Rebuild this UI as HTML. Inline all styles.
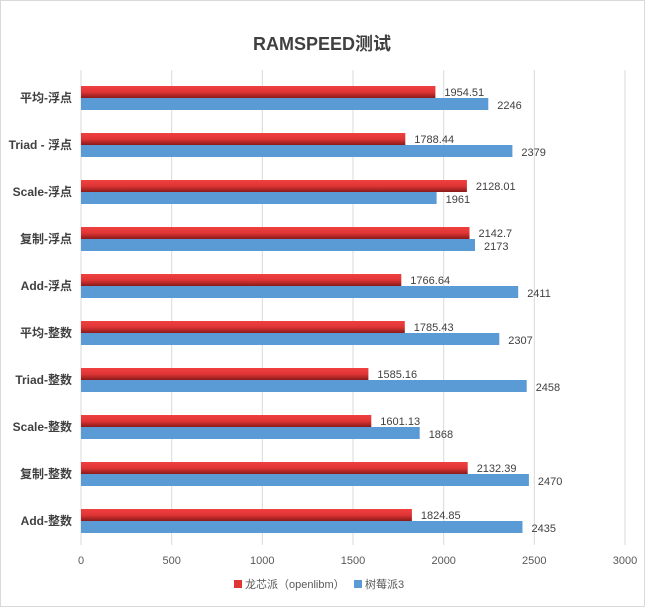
<!DOCTYPE html>
<html><head><meta charset="utf-8"><style>
body{margin:0;background:#fff}
svg text{font-family:"Liberation Sans","Noto Sans CJK SC",sans-serif}
</style></head><body>
<svg width="645" height="607" xmlns="http://www.w3.org/2000/svg">
<defs>
<linearGradient id="r" x1="0" y1="0" x2="0" y2="1">
<stop offset="0" stop-color="#f04040"/><stop offset="0.5" stop-color="#e03535"/><stop offset="1" stop-color="#8a1a1a"/>
</linearGradient>
</defs>
<rect x="0.5" y="0.5" width="644" height="606" fill="#fff" stroke="#d9d9d9"/>
<text x="322" y="50" font-size="18" font-weight="bold" fill="#404040" text-anchor="middle">RAMSPEED测试</text>
<g stroke="#d9d9d9" stroke-width="1">
<line x1="81" y1="70" x2="81" y2="545"/><line x1="171.7" y1="70" x2="171.7" y2="545"/><line x1="262.3" y1="70" x2="262.3" y2="545"/><line x1="353" y1="70" x2="353" y2="545"/><line x1="443.7" y1="70" x2="443.7" y2="545"/><line x1="534.3" y1="70" x2="534.3" y2="545"/><line x1="625" y1="70" x2="625" y2="545"/>
</g>
<g font-size="11" fill="#595959" text-anchor="middle">
<text x="81" y="564">0</text><text x="171.7" y="564">500</text><text x="262.3" y="564">1000</text><text x="353" y="564">1500</text><text x="443.7" y="564">2000</text><text x="534.3" y="564">2500</text><text x="625" y="564">3000</text>
</g>
<g>
<rect x="81" y="86" width="354.4" height="12" fill="url(#r)"/><rect x="81" y="98" width="407.3" height="12" fill="#5b9bd5"/>
<rect x="81" y="133" width="324.3" height="12" fill="url(#r)"/><rect x="81" y="145" width="431.4" height="12" fill="#5b9bd5"/>
<rect x="81" y="180" width="385.9" height="12" fill="url(#r)"/><rect x="81" y="192" width="355.6" height="12" fill="#5b9bd5"/>
<rect x="81" y="227" width="388.5" height="12" fill="url(#r)"/><rect x="81" y="239" width="394.0" height="12" fill="#5b9bd5"/>
<rect x="81" y="274" width="320.3" height="12" fill="url(#r)"/><rect x="81" y="286" width="437.2" height="12" fill="#5b9bd5"/>
<rect x="81" y="321" width="323.8" height="12" fill="url(#r)"/><rect x="81" y="333" width="418.3" height="12" fill="#5b9bd5"/>
<rect x="81" y="368" width="287.4" height="12" fill="url(#r)"/><rect x="81" y="380" width="445.7" height="12" fill="#5b9bd5"/>
<rect x="81" y="415" width="290.3" height="12" fill="url(#r)"/><rect x="81" y="427" width="338.7" height="12" fill="#5b9bd5"/>
<rect x="81" y="462" width="386.7" height="12" fill="url(#r)"/><rect x="81" y="474" width="447.9" height="12" fill="#5b9bd5"/>
<rect x="81" y="509" width="330.9" height="12" fill="url(#r)"/><rect x="81" y="521" width="441.5" height="12" fill="#5b9bd5"/>
</g>
<g font-size="11" fill="#404040">
<text x="444.4" y="96">1954.51</text><text x="497.3" y="109">2246</text>
<text x="414.3" y="143">1788.44</text><text x="521.4" y="156">2379</text>
<text x="475.9" y="190">2128.01</text><text x="445.6" y="203">1961</text>
<text x="478.5" y="237">2142.7</text><text x="484" y="250">2173</text>
<text x="410.3" y="284">1766.64</text><text x="527.2" y="297">2411</text>
<text x="413.8" y="331">1785.43</text><text x="508.3" y="344">2307</text>
<text x="377.4" y="378">1585.16</text><text x="535.7" y="391">2458</text>
<text x="380.3" y="425">1601.13</text><text x="428.7" y="438">1868</text>
<text x="476.7" y="472">2132.39</text><text x="537.9" y="485">2470</text>
<text x="420.9" y="519">1824.85</text><text x="531.5" y="532">2435</text>
</g>
<g font-size="12" font-weight="bold" fill="#404040" text-anchor="end">
<text x="72" y="102">平均-浮点</text>
<text x="72" y="149">Triad - 浮点</text>
<text x="72" y="196">Scale-浮点</text>
<text x="72" y="243">复制-浮点</text>
<text x="72" y="290">Add-浮点</text>
<text x="72" y="337">平均-整数</text>
<text x="72" y="384">Triad-整数</text>
<text x="72" y="431">Scale-整数</text>
<text x="72" y="478">复制-整数</text>
<text x="72" y="525">Add-整数</text>
</g>
<rect x="234" y="580" width="8" height="8" fill="#e03535"/>
<text x="245" y="588" font-size="11" fill="#595959">龙芯派（openlibm）</text>
<rect x="354" y="580" width="8" height="8" fill="#5b9bd5"/>
<text x="365" y="588" font-size="11" fill="#595959">树莓派3</text>
</svg>
</body></html>
